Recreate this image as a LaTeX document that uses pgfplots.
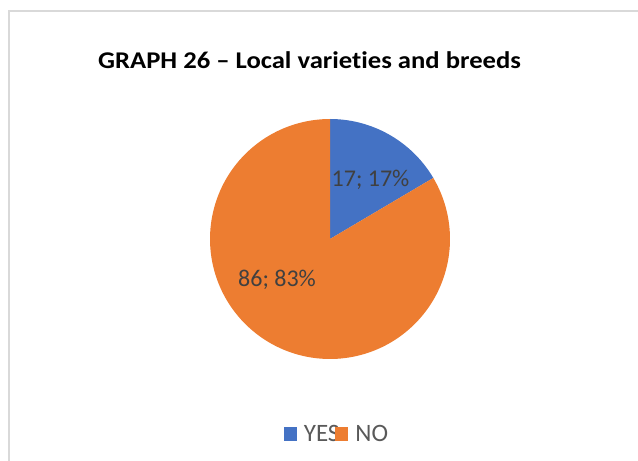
\documentclass[border=0pt]{standalone}
\usepackage{fontspec}
\setmainfont{Carlito}[Ligatures=NoCommon]
\newfontfamily\titlefont{Carlito}[FakeStretch=1.11, Ligatures=NoCommon]
\usepackage{pgfplots}
\usepackage{pgfplotstable}
\pgfplotsset{compat=1.18}

\definecolor{pieblue}{HTML}{4472C4}
\definecolor{pieorange}{HTML}{ED7D31}
\definecolor{labelgray}{HTML}{404040}
\definecolor{legendgray}{HTML}{595959}
\definecolor{framegray}{HTML}{D9D9D9}

\newcommand{\legendfont}{\fontsize{25}{29}\selectfont}

% answers: count per category
\pgfplotstableread{
label value
YES 17
NO  86
}\piedata
\pgfplotstablegetelem{0}{value}\of\piedata \let\vyes\pgfplotsretval
\pgfplotstablegetelem{1}{value}\of\piedata \let\vno\pgfplotsretval
\pgfmathsetmacro{\total}{\vyes+\vno}
% slices start at 12 o'clock and run clockwise
\pgfmathsetmacro{\splitangle}{90-360*\vyes/\total}

\begin{document}
\begin{tikzpicture}
\useasboundingbox (0,0) rectangle (638pt,461pt);
\begin{axis}[
  width=638pt, height=461pt, scale only axis,
  xmin=0, xmax=638, ymin=0, ymax=461,
  hide axis, clip=false,
  legend columns=2,
  legend style={draw=none, fill=none,
    at={(axis cs:337,27)}, anchor=center,
    font=\legendfont, text=legendgray,
    % the next swatch slightly overlaps the preceding text
    /tikz/every even column/.append style={column sep=-6pt}},
  legend image code/.code={\fill[#1] (0pt,-6.5pt) rectangle (13pt,6.5pt);},
]
% chart area frame
\draw[framegray, line width=2pt] (axis cs:9,-10) -- (axis cs:9,450) -- (axis cs:650,450);

% pie slices
\addplot[fill=pieblue, draw=none, domain=\splitangle:90, samples=80, variable=\t]
  ({330+120*cos(t)}, {222+120*sin(t)}) -- (axis cs:330,222) -- cycle;
\addlegendentry{\hspace{5pt}YES}
\addplot[fill=pieorange, draw=none, domain=-270:\splitangle, samples=160, variable=\t]
  ({330+120*cos(t)}, {222+120*sin(t)}) -- (axis cs:330,222) -- cycle;
\addlegendentry{\hspace{5pt}NO}

% data labels
\node[anchor=base west, inner sep=0pt, text=labelgray, font=\fontsize{24}{28}\selectfont]
  at (axis cs:331.5,274.3) {17; 17\%};
\node[anchor=base west, inner sep=0pt, text=labelgray, font=\fontsize{24}{28}\selectfont]
  at (axis cs:238,174) {86; 83\%};

% title
\node[anchor=base west, inner sep=0pt, text=black, font=\titlefont\fontsize{24}{29}\selectfont\bfseries]
  at (axis cs:98,392.7) {GRAPH 26 – Local varieties and breeds};
\end{axis}
\end{tikzpicture}
\end{document}
